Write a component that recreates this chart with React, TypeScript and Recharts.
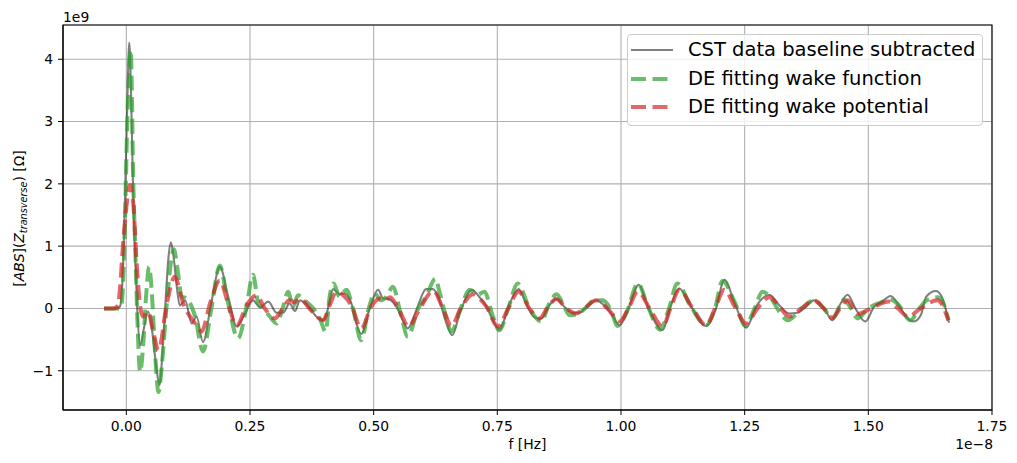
import React from 'react';
import { LineChart, Line, XAxis, YAxis, CartesianGrid, ReferenceArea } from 'recharts';

// x in units of 1e-8 Hz, y in units of 1e9 Ohm
const cstX = [-0.045, -0.017, -0.012, -0.006, -0.002, 0.002, 0.006, 0.010, 0.014, 0.018, 0.022, 0.028, 0.036, 0.044, 0.052, 0.060, 0.067, 0.074, 0.080, 0.085, 0.090, 0.096, 0.102, 0.108, 0.119, 0.132, 0.142, 0.155, 0.172, 0.189, 0.206, 0.223, 0.240, 0.256, 0.270, 0.287, 0.304, 0.317, 0.330, 0.341, 0.351, 0.371, 0.384, 0.398, 0.405, 0.418, 0.431, 0.441, 0.455, 0.465, 0.475, 0.492, 0.509, 0.519, 0.530, 0.546, 0.559, 0.569, 0.586, 0.606, 0.620, 0.633, 0.647, 0.659, 0.674, 0.699, 0.714, 0.728, 0.741, 0.754, 0.775, 0.793, 0.808, 0.825, 0.839, 0.855, 0.869, 0.889, 0.902, 0.915, 0.930, 0.950, 0.966, 0.980, 0.997, 1.014, 1.036, 1.054, 1.084, 1.101, 1.118, 1.138, 1.172, 1.192, 1.209, 1.229, 1.253, 1.273, 1.300, 1.320, 1.340, 1.357, 1.370, 1.390, 1.411, 1.427, 1.444, 1.458, 1.474, 1.494, 1.512, 1.528, 1.545, 1.562, 1.576, 1.592, 1.606, 1.617, 1.637, 1.650, 1.663];
const cstY = [0, 0, 0.05, 0.8, 2.0, 3.3, 4.27, 3.3, 1.79, 0.8, 0.0, -0.59, -0.3, -0.05, -0.35, -0.9, -1.23, -0.6, 0.2, 0.8, 1.06, 0.8, 0.35, 0.05, 0.13, -0.24, -0.13, -0.54, 0.1, 0.67, 0.19, -0.29, -0.08, 0.13, 0.02, 0.11, -0.07, -0.07, 0.08, -0.04, 0.13, 0.0, -0.13, -0.19, -0.08, 0.31, 0.23, 0.24, 0.08, -0.24, -0.41, 0.0, 0.30, 0.16, 0.15, 0.03, -0.19, -0.32, -0.03, 0.31, 0.31, 0.13, -0.24, -0.43, -0.08, 0.30, 0.18, 0.03, -0.19, -0.34, 0.08, 0.31, 0.08, -0.14, -0.16, 0.05, 0.15, 0.0, -0.07, -0.07, 0.02, 0.13, 0.05, -0.08, -0.27, -0.02, 0.38, 0.03, -0.35, 0.05, 0.32, 0.08, -0.28, 0.0, 0.46, 0.11, -0.31, 0.03, 0.22, 0.05, -0.08, -0.07, 0.0, 0.13, 0.0, -0.19, 0.08, 0.22, 0.0, -0.21, 0.03, 0.11, 0.2, 0.05, -0.13, -0.21, -0.11, 0.19, 0.28, 0.16, -0.23];

const wfX = [-0.045, -0.013, -0.009, -0.004, 0.002, 0.009, 0.014, 0.018, 0.022, 0.028, 0.034, 0.040, 0.046, 0.052, 0.058, 0.065, 0.072, 0.080, 0.088, 0.096, 0.104, 0.112, 0.122, 0.139, 0.155, 0.172, 0.189, 0.203, 0.226, 0.243, 0.256, 0.267, 0.278, 0.290, 0.304, 0.316, 0.327, 0.337, 0.347, 0.362, 0.378, 0.391, 0.403, 0.411, 0.419, 0.431, 0.445, 0.458, 0.475, 0.490, 0.502, 0.515, 0.526, 0.539, 0.555, 0.569, 0.590, 0.606, 0.625, 0.633, 0.645, 0.657, 0.676, 0.694, 0.710, 0.724, 0.740, 0.754, 0.772, 0.791, 0.815, 0.839, 0.855, 0.870, 0.884, 0.896, 0.912, 0.930, 0.946, 0.963, 0.980, 0.993, 1.012, 1.034, 1.055, 1.079, 1.097, 1.114, 1.140, 1.172, 1.190, 1.205, 1.230, 1.252, 1.270, 1.286, 1.300, 1.320, 1.337, 1.365, 1.390, 1.410, 1.427, 1.451, 1.465, 1.478, 1.500, 1.520, 1.545, 1.562, 1.585, 1.603, 1.618, 1.641, 1.652, 1.662];
const wfY = [0, 0, 0.1, 1.0, 3.0, 4.15, 2.06, 0.99, -0.08, -1.02, -0.6, 0.2, 0.67, 0.2, -0.7, -1.34, -0.9, -0.1, 0.6, 0.95, 0.6, 0.19, 0.16, -0.13, -0.69, 0.0, 0.69, 0.19, -0.48, 0.03, 0.54, 0.08, 0.0, -0.13, -0.24, 0.0, 0.27, 0.03, 0.21, 0.12, 0.0, -0.16, -0.37, 0.19, 0.40, 0.19, 0.30, 0.0, -0.51, 0.0, 0.24, 0.13, 0.19, 0.35, -0.1, -0.45, 0.0, 0.19, 0.48, 0.27, -0.1, -0.37, 0.0, 0.30, 0.22, 0.27, -0.1, -0.35, 0.0, 0.40, 0.0, -0.21, 0.08, 0.23, 0.05, -0.11, -0.09, 0.02, 0.13, 0.13, -0.03, -0.28, -0.05, 0.40, 0.02, -0.34, 0.0, 0.40, 0.05, -0.27, 0.0, 0.44, 0.1, -0.28, 0.0, 0.27, 0.2, -0.05, -0.19, 0.0, 0.13, 0.0, -0.16, 0.14, 0.0, -0.16, 0.0, 0.08, 0.14, 0.05, -0.19, 0.0, 0.13, 0.18, 0.08, -0.19];

const wpX = [-0.045, -0.025, -0.017, -0.013, -0.007, 0.001, 0.007, 0.014, 0.021, 0.028, 0.034, 0.044, 0.055, 0.065, 0.082, 0.098, 0.115, 0.139, 0.152, 0.170, 0.189, 0.205, 0.223, 0.243, 0.263, 0.280, 0.300, 0.316, 0.330, 0.340, 0.351, 0.370, 0.398, 0.411, 0.425, 0.440, 0.455, 0.475, 0.495, 0.513, 0.523, 0.533, 0.550, 0.571, 0.590, 0.621, 0.640, 0.657, 0.676, 0.701, 0.714, 0.728, 0.751, 0.772, 0.793, 0.815, 0.835, 0.852, 0.869, 0.890, 0.909, 0.930, 0.950, 0.975, 0.997, 1.015, 1.034, 1.058, 1.084, 1.100, 1.118, 1.145, 1.172, 1.190, 1.209, 1.230, 1.253, 1.276, 1.300, 1.320, 1.340, 1.365, 1.390, 1.410, 1.427, 1.443, 1.458, 1.470, 1.478, 1.500, 1.542, 1.560, 1.581, 1.605, 1.640, 1.662];
const wpY = [0, 0, 0.05, 0.30, 0.99, 1.69, 1.98, 1.69, 0.72, 0.03, -0.13, -0.05, -0.4, -0.67, 0.08, 0.51, 0.08, -0.24, -0.37, 0.1, 0.45, 0.1, -0.28, 0.05, 0.21, 0.0, -0.16, 0.0, 0.13, 0.1, 0.16, 0.0, -0.19, 0.05, 0.27, 0.2, 0.05, -0.32, 0.03, 0.16, 0.13, 0.18, 0.0, -0.29, -0.05, 0.28, 0.0, -0.28, 0.0, 0.23, 0.16, 0.03, -0.29, 0.0, 0.27, 0.0, -0.16, 0.02, 0.15, 0.0, -0.08, 0.03, 0.13, -0.02, -0.21, 0.0, 0.27, 0.0, -0.29, 0.0, 0.30, 0.0, -0.27, 0.0, 0.30, 0.03, -0.24, 0.0, 0.18, 0.03, -0.13, 0.0, 0.13, 0.0, -0.15, 0.0, 0.13, 0.0, -0.09, -0.02, 0.11, 0.0, -0.13, 0.0, 0.13, -0.19];

const xTicks = [0, 0.25, 0.5, 0.75, 1.0, 1.25, 1.5, 1.75];
const yTicks = [-1, 0, 1, 2, 3, 4];
const seriesNames = ['CST data baseline subtracted', 'DE fitting wake function', 'DE fitting wake potential'];

const cst = cstX.map((x, i) => ({ x, y: cstY[i] }));
const wakeFunction = wfX.map((x, i) => ({ x, y: wfY[i] }));
const wakePotential = wpX.map((x, i) => ({ x, y: wpY[i] }));

const FONT = 'DejaVu Sans, sans-serif';
const GREY = 'rgba(0,0,0,0.5)';
const GREEN = 'rgba(44,160,44,0.7)';
const RED = 'rgba(214,39,40,0.7)';

const W = 1000;
const H = 455;

export default function App() {
  const tickStyle = { fill: '#000', fontSize: 13.9, fontFamily: FONT };
  const legendRows = [
    { name: seriesNames[0], color: GREY, width: 2.1, dash: undefined as string | undefined },
    { name: seriesNames[1], color: GREEN, width: 4, dash: '15 6.5' },
    { name: seriesNames[2], color: RED, width: 4, dash: '15 6.5' },
  ];
  const rowCenters = [16, 45, 73];
  return (
    <div style={{ position: 'relative', width: W, height: H, fontFamily: FONT }}>
      <LineChart width={W} height={H} margin={{ top: 17, right: 16, left: 5, bottom: 23 }}>
        <CartesianGrid stroke="#b0b0b0" strokeWidth={1.1} />
        <XAxis
          type="number"
          dataKey="x"
          domain={[-0.128, 1.75]}
          ticks={xTicks}
          allowDataOverflow
          tickFormatter={(v: number) => v.toFixed(2)}
          tickSize={5}
          tickMargin={6}
          height={30}
          stroke="#000"
          tick={tickStyle}
        />
        <YAxis
          type="number"
          domain={[-1.63, 4.55]}
          ticks={yTicks}
          allowDataOverflow
          tickFormatter={(v: number) => (v < 0 ? '\u2212' + Math.abs(v) : String(v))}
          tickSize={5}
          tickMargin={5}
          width={50}
          stroke="#000"
          tick={tickStyle}
        />
        <Line data={cst} dataKey="y" type="monotone" stroke={GREY} strokeWidth={2.1} dot={false} isAnimationActive={false} name={seriesNames[0]} />
        <Line data={wakeFunction} dataKey="y" type="monotone" stroke={GREEN} strokeWidth={4} strokeDasharray="15 6.5" dot={false} isAnimationActive={false} name={seriesNames[1]} />
        <Line data={wakePotential} dataKey="y" type="monotone" stroke={RED} strokeWidth={4} strokeDasharray="15 6.5" dot={false} isAnimationActive={false} name={seriesNames[2]} />
        <ReferenceArea x1={-0.128} x2={1.75} y1={-1.63} y2={4.55} fill="none" stroke="#000" strokeWidth={1.1} ifOverflow="visible" />
      </LineChart>
      <svg width={W} height={H} style={{ position: 'absolute', left: 0, top: 0, pointerEvents: 'none' }}>
        <text x={55} y={14} fontSize={13.9} fontFamily={FONT} fill="#000">1e9</text>
        <text x={519.5} y={441} fontSize={13.9} fontFamily={FONT} fill="#000" textAnchor="middle">f [Hz]</text>
        <text x={985} y={441} fontSize={13.9} fontFamily={FONT} fill="#000" textAnchor="end">1e{'\u2212'}8</text>
        <text x={15.5} y={210.5} fontSize={13.9} fontFamily={FONT} fill="#000" textAnchor="middle" transform="rotate(-90, 15.5, 210.5)">
          <tspan>[</tspan>
          <tspan fontStyle="italic">ABS</tspan>
          <tspan>](</tspan>
          <tspan fontStyle="italic">Z</tspan>
          <tspan fontStyle="italic" fontSize={9.7} dy={3}>transverse</tspan>
          <tspan dy={-3}>) [Ω]</tspan>
        </text>
      </svg>
      <div
        style={{
          position: 'absolute', left: 619, top: 26, width: 356, height: 92,
          border: '1px solid #cccccc', borderRadius: 4, background: 'rgba(255,255,255,0.8)', boxSizing: 'border-box',
        }}
      >
        {legendRows.map((r, i) => (
          <React.Fragment key={r.name}>
            <svg width={44} height={10} style={{ position: 'absolute', left: 2, top: rowCenters[i] - 5 - 1 }}>
              <line x1={1} y1={5} x2={43} y2={5} stroke={r.color} strokeWidth={r.width} strokeDasharray={r.dash} />
            </svg>
            <div style={{ position: 'absolute', left: 60, top: rowCenters[i] - 12 - 1, height: 24, lineHeight: '24px', fontSize: 19.5, whiteSpace: 'nowrap', color: '#000' }}>
              {r.name}
            </div>
          </React.Fragment>
        ))}
      </div>
    </div>
  );
}
